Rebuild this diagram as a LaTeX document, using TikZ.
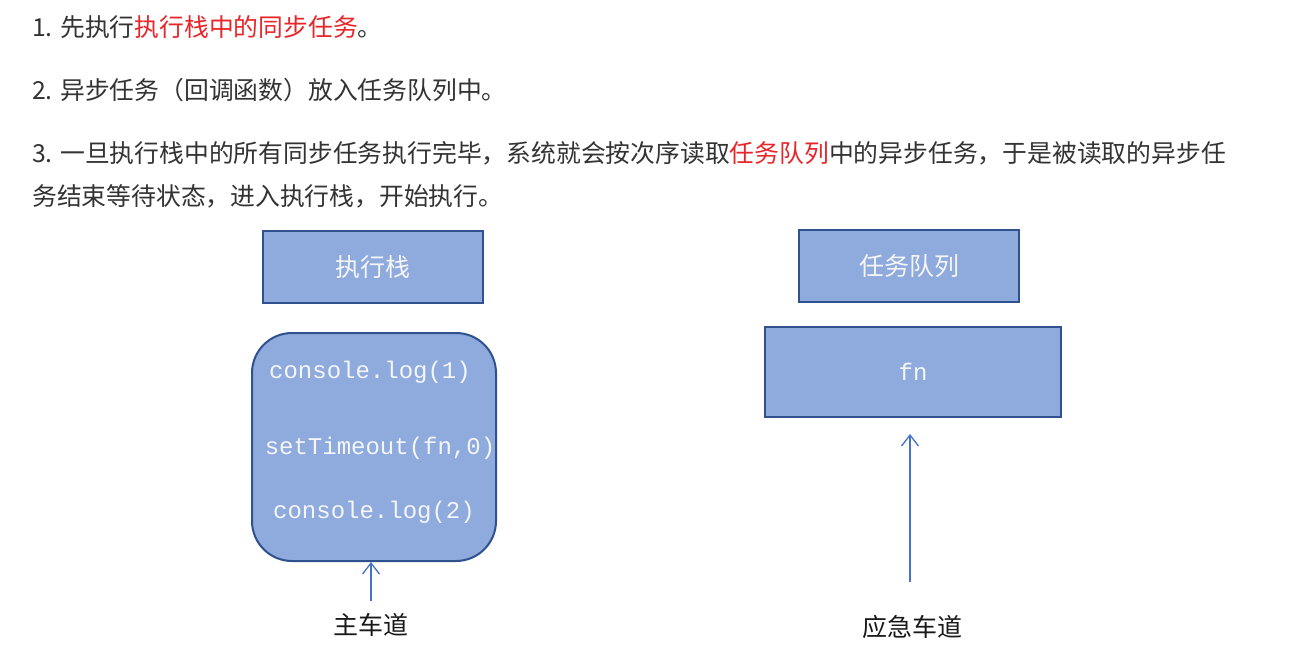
\documentclass[tikz,border=0pt]{standalone}
\usepackage{fontspec}
\newfontfamily\cjk{Noto Sans CJK SC}
\newfontfamily\mono{Liberation Mono}
\usetikzlibrary{arrows.meta}
\definecolor{boxfill}{HTML}{8FAADC}
\definecolor{boxline}{HTML}{2F528F}
\definecolor{arrowc}{HTML}{4472C4}
\definecolor{txt}{HTML}{333333}
\definecolor{hl}{HTML}{E8262A}
\definecolor{boxtxt}{HTML}{F4F6FA}
\begin{document}
\begin{tikzpicture}[x=1pt,y=-1pt,
  bodytext/.style={anchor=base west,inner sep=0pt,text=txt,font=\cjk\fontsize{24.8}{28}\selectfont},
  bluebox/.style={draw=boxline,line width=2pt,fill=boxfill,inner sep=0pt},
  boxlabel/.style={text=boxtxt,font=\cjk\fontsize{25}{28}\selectfont},
  codetext/.style={text=boxtxt,font=\mono\fontsize{24}{28}\selectfont,inner sep=0pt},
  lane/.style={text=black!90,font=\cjk\fontsize{25}{28}\selectfont},
  lanearrow/.style={draw=arrowc,line width=1.3pt,-{Straight Barb[length=11pt,width=17pt,line width=1.3pt]}}
]
\useasboundingbox[fill=white] (0,0) rectangle (1302,649);

% text lines
\node[bodytext] (l1) at (32,36) {1. 先执行\textcolor{hl}{执行栈中的同步任务}。};
\node[bodytext] (l2) at (32,99) {2. 异步任务（回调函数）放入任务队列中。};
\node[bodytext] (l3) at (32,162) {3. 一旦执行栈中的所有同步任务执行完毕，系统就会按次序读取\textcolor{hl}{任务队列}中的异步任务，于是被读取的异步任};
\node[bodytext] (l4) at (32,205) {务结束等待状态，进入执行栈，开始执行。};

% left column
\node[bluebox,minimum width=220pt,minimum height=72pt] (stack) at (373,267) {};
\node[boxlabel] (stacklabel) at (stack.center) {执行栈};
\node[bluebox,rounded corners=40pt,minimum width=244pt,minimum height=228pt] (code) at (374,447) {};
\node[codetext] (c1) at (370,372) {console.log(1)};
\node[codetext] (c2) at (380,448) {setTimeout(fn,0)};
\node[codetext] (c3) at (374,512) {console.log(2)};
\coordinate (mstart) at (371,601);
\draw[lanearrow] (mstart) -- (mstart |- code.south);
\node[lane] (main) at (371,625) {主车道};

% right column
\node[bluebox,minimum width=220pt,minimum height=72pt] (queue) at (909,266) {};
\node[boxlabel] (queuelabel) at (queue.center) {任务队列};
\node[bluebox,minimum width=296pt,minimum height=90pt] (fnbox) at (913,372) {};
\node[codetext] (fn) at (fnbox.center) {fn};
\coordinate (estart) at (910,582);
\draw[lanearrow,shorten >=16pt] (estart) -- (estart |- fnbox.south);
\node[lane] (emerg) at (912,627) {应急车道};
\end{tikzpicture}
\end{document}
